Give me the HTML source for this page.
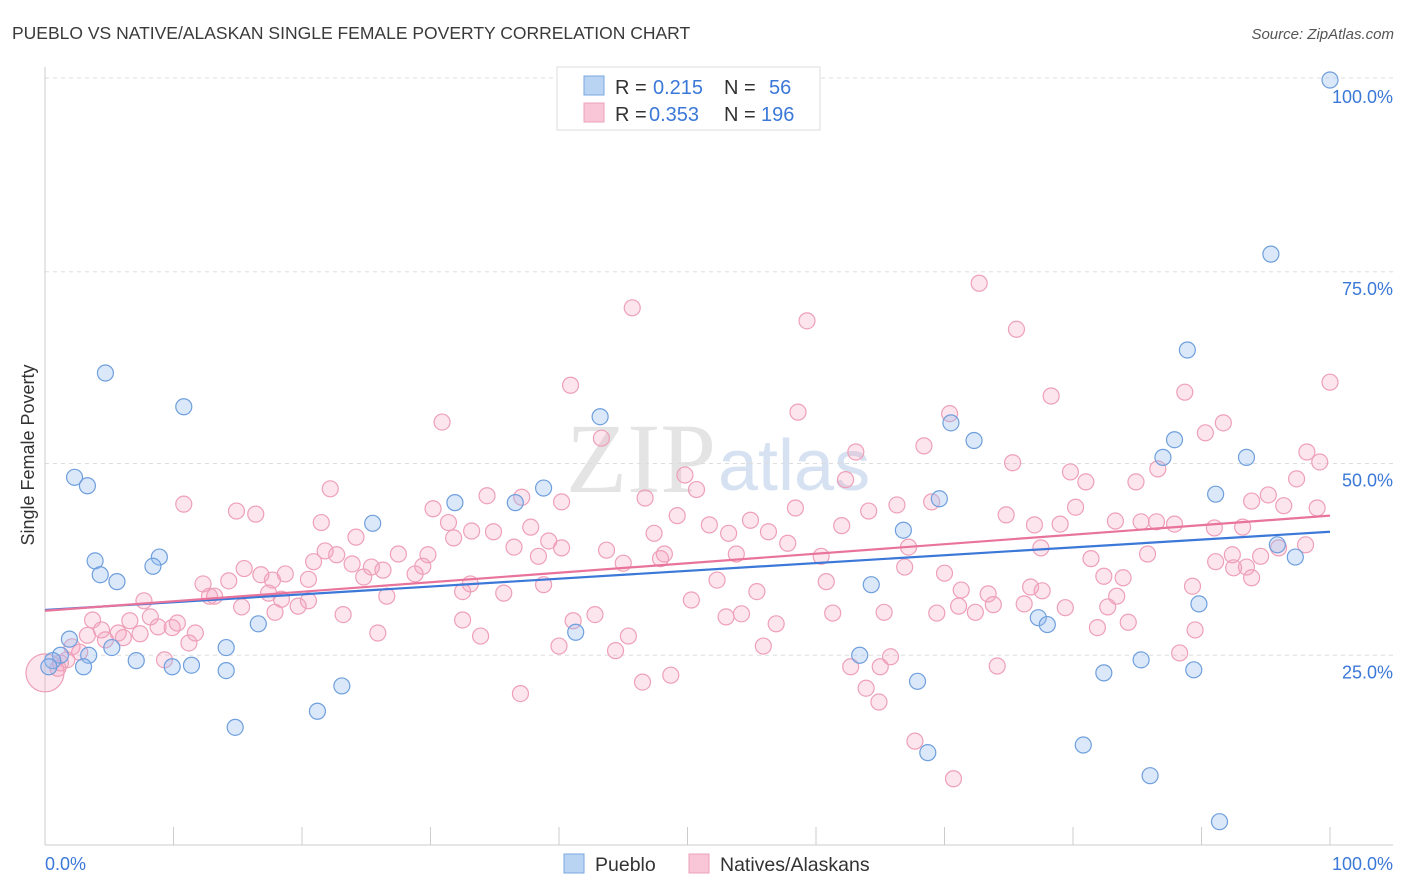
<!DOCTYPE html>
<html><head><meta charset="utf-8"><style>
body{margin:0;background:#fff;font-family:"Liberation Sans",sans-serif;}
svg{display:block}
</style></head><body>
<svg id="chart" width="1406" height="892">
<text x="12" y="39" font-size="17.5" fill="#3a3a3a">PUEBLO VS NATIVE/ALASKAN SINGLE FEMALE POVERTY CORRELATION CHART</text>
<text x="1394" y="39" font-size="15" fill="#555" font-style="italic" text-anchor="end">Source: ZipAtlas.com</text>
<text x="716" y="492" font-size="100" fill="#e4e4e4" text-anchor="end" font-family="Liberation Serif">ZIP</text>
<text x="718" y="490" font-size="72" fill="#d6e2f2">atlas</text>
<text transform="translate(34,455) rotate(-90)" font-size="18" fill="#333" text-anchor="middle">Single Female Poverty</text>
<g id="grid"></g><g id="pts"></g><g id="lines"></g>
<rect x="557" y="67" width="263" height="63" fill="#fff" stroke="#ddd"/>
<rect x="584" y="76" width="20" height="19" fill="#b9d3f3" stroke="#7aa7e0"/>
<rect x="584" y="103" width="20" height="19" fill="#f8c6d6" stroke="#eea0b8"/>
<g font-size="20" fill="#333">
<text x="615" y="94">R =</text><text x="653" y="94" fill="#3b78d8">0.215</text>
<text x="724" y="94">N =</text><text x="769" y="94" fill="#3b78d8">56</text>
<text x="615" y="121">R =</text><text x="649" y="121" fill="#3b78d8">0.353</text>
<text x="724" y="121">N =</text><text x="761" y="121" fill="#3b78d8">196</text>
</g>
<rect x="564" y="854" width="20" height="19" fill="#b9d3f3" stroke="#7aa7e0"/>
<text x="595" y="871" font-size="19.5" fill="#333">Pueblo</text>
<rect x="689" y="854" width="20" height="19" fill="#f8c6d6" stroke="#eea0b8"/>
<text x="720" y="871" font-size="19.5" fill="#333">Natives/Alaskans</text>
</svg>
<script>
const yTicks=[25,50,75,100];
const yTickLabels=["25.0%","50.0%","75.0%","100.0%"];
const xEndLabels=["0.0%","100.0%"];
const puebloX=[100,95.4,88.9,4.7,10.8,43.2,70.5,72.3,87.9,87.0,93.5,2.3,3.3,38.8,31.9,36.6,69.6,91.1,25.5,66.8,95.9,97.3,3.9,8.9,8.4,4.3,5.6,64.3,89.8,77.3,78.0,16.6,41.3,1.9,14.1,5.2,3.4,1.2,0.6,7.1,0.3,3.0,9.9,11.4,14.1,63.4,85.3,82.4,89.4,67.9,23.1,21.2,14.8,68.7,80.8,86.0,91.4];
const puebloY=[100,77.3,64.8,61.8,57.4,56.1,55.3,53.0,53.1,50.8,50.8,48.2,47.1,46.8,44.9,44.9,45.4,46.0,42.2,41.3,39.4,37.8,37.3,37.8,36.6,35.5,34.6,34.2,31.7,29.9,29.0,29.1,28.0,27.1,26.0,26.0,25.0,25.0,24.3,24.3,23.5,23.5,23.5,23.7,23.0,25.0,24.4,22.7,23.1,21.6,21.0,17.7,15.6,12.3,13.3,9.3,3.3];
const nativesX=[72.7,45.7,59.3,75.6,100,40.9,88.7,78.3,70.4,30.9,58.6,91.7,90.3,43.3,68.4,98.2,63.1,86.6,75.3,99.2,49.8,79.8,81.0,62.3,84.9,97.4,22.2,34.4,37.1,50.7,46.7,10.8,93.9,95.2,96.4,99.0,14.9,16.4,80.2,64.1,69.0,58.4,74.8,30.2,40.2,49.2,66.3,21.5,31.4,37.8,51.7,54.9,79.0,83.3,85.3,86.5,87.9,91.0,93.2,77.0,62.0,47.4,53.2,56.3,24.2,33.2,34.9,31.8,36.5,39.2,40.2,57.8,67.2,21.8,22.7,27.5,29.8,43.7,48.2,53.8,60.4,77.5,81.4,85.8,96.0,98.1,94.6,92.4,91.1,93.5,20.9,23.9,25.4,26.3,29.4,15.5,16.8,18.7,28.8,38.4,45.0,24.8,47.9,66.9,70.0,82.4,83.9,93.9,92.5,12.3,14.3,12.8,13.2,17.7,17.4,20.5,52.3,60.8,76.7,89.3,38.8,26.6,32.5,35.7,33.1,55.4,71.3,73.4,77.6,83.4,7.7,15.3,18.4,20.5,19.7,50.3,71.1,72.4,73.8,76.2,79.4,82.7,8.2,10.3,8.8,9.9,17.9,23.2,32.5,42.8,54.2,61.3,53.0,65.3,69.4,3.7,6.6,4.4,5.7,3.3,7.4,11.7,41.1,56.9,81.9,84.3,89.5,25.9,33.9,45.4,6.1,4.7,11.2,40.0,55.9,44.4,2.1,2.7,88.3,1.7,65.8,1.2,1.0,65.0,62.7,74.1,9.3,48.7,46.5,63.9,37.0,64.9,67.7,70.7];
const nativesY=[73.5,70.3,68.6,67.5,60.6,60.2,59.3,58.8,56.5,55.4,56.7,55.3,54.0,53.3,52.3,51.5,51.5,49.3,50.1,50.2,48.5,48.9,47.6,47.9,47.6,48.0,46.7,45.8,45.6,46.6,45.5,44.7,45.1,45.9,44.5,44.2,43.8,43.4,44.3,43.8,45.0,44.2,43.3,44.1,45.0,43.2,44.6,42.3,42.3,41.7,42.0,42.6,42.1,42.5,42.4,42.4,42.1,41.6,41.7,42.0,41.9,40.9,40.9,41.1,40.4,41.2,41.1,40.3,39.1,39.9,39.0,39.6,39.1,38.6,38.1,38.2,38.1,38.7,38.2,38.2,37.9,39.0,37.6,38.2,39.0,39.4,37.9,38.1,37.2,36.5,37.2,36.9,36.5,36.1,36.6,36.3,35.5,35.6,35.6,37.9,37.0,35.2,37.6,36.5,35.7,35.3,35.1,35.1,36.4,34.3,34.7,32.7,32.7,34.8,33.1,34.9,34.8,34.6,33.9,34.0,34.2,32.7,33.3,33.1,34.3,33.3,33.5,33.0,33.4,32.7,32.1,31.3,32.3,32.1,31.4,32.2,31.4,30.6,31.6,31.7,31.2,31.3,30.0,29.2,28.7,28.6,30.6,30.3,29.6,30.3,30.4,30.5,30.0,30.6,30.5,29.6,29.5,28.3,27.9,27.6,27.8,27.9,29.5,29.1,28.6,29.3,28.3,27.9,27.5,27.5,27.3,27.0,26.6,26.2,26.2,25.6,26.1,25.4,25.3,24.4,24.8,24.0,23.3,23.5,23.5,23.6,24.4,22.4,21.5,20.7,20.0,18.9,13.8,8.9];
const bigNatives=[[0,22.7]];
const puebloTrend=[30.9,41.1];
const nativesTrend=[30.8,43.2];

const NS="http://www.w3.org/2000/svg";
const X0=45,X1=1330,Y0=847,YS=7.67;
const xs=v=>X0+(X1-X0)*v/100;
const ys=v=>Y0-v*YS;
function mk(tag,attrs,parent){const e=document.createElementNS(NS,tag);for(const k in attrs)e.setAttribute(k,attrs[k]);parent.appendChild(e);return e;}
const grid=document.getElementById('grid');
yTicks.forEach((t,i)=>{
  const l=mk('line',{x1:45,x2:1393,y1:ys(t)-(t==100?2:0),y2:ys(t)-(t==100?2:0),stroke:'#ddd','stroke-dasharray':'4,4'},grid);
  
  
  const tx=mk('text',{x:1393,y:ys(t)+23,'font-size':18,fill:'#3b78d8','text-anchor':'end'},grid);
  tx.textContent=yTickLabels[i];
  
  
});
const ax=mk('line',{x1:45,x2:1393,y1:845,y2:845,stroke:'#ccc'},grid);


const ay=mk('line',{x1:45,x2:45,y1:67,y2:845,stroke:'#ccc'},grid);


for(let i=0;i<=10;i++){
  const t=mk('line',{x1:xs(i*10),x2:xs(i*10),y1:827,y2:845,stroke:'#ccc'},grid);
  
  
}
[[0,45,'start'],[100,1393,'end']].forEach((d,i)=>{
  const t=mk('text',{x:d[1],y:870,'font-size':18,fill:'#3b78d8','text-anchor':d[2]},grid);
  t.textContent=xEndLabels[i];
  
  
});
const pts=document.getElementById('pts');
nativesX.forEach((x,i)=>{
  const c=mk('circle',{cx:xs(x),cy:ys(nativesY[i]),r:8,fill:'rgba(245,160,190,0.28)',stroke:'#eea0b8','stroke-width':1.2},pts);
  
  
});
bigNatives.forEach(p=>{
  const c=mk('circle',{cx:xs(p[0]),cy:ys(p[1]),r:19,fill:'rgba(245,160,190,0.28)',stroke:'#eea0b8','stroke-width':1.2},pts);
  
  
});
puebloX.forEach((x,i)=>{
  const c=mk('circle',{cx:xs(x),cy:ys(puebloY[i]),r:8,fill:'rgba(150,190,240,0.35)',stroke:'#6f9fdc','stroke-width':1.2},pts);
  
  
});
const lines=document.getElementById('lines');
const lb=mk('line',{x1:xs(0),x2:xs(100),y1:ys(puebloTrend[0]),y2:ys(puebloTrend[1]),stroke:'#3b78d8','stroke-width':2.2},lines);


const lp=mk('line',{x1:xs(0),x2:xs(100),y1:ys(nativesTrend[0]),y2:ys(nativesTrend[1]),stroke:'#e8739b','stroke-width':2.2},lines);


</script>
</body></html>
